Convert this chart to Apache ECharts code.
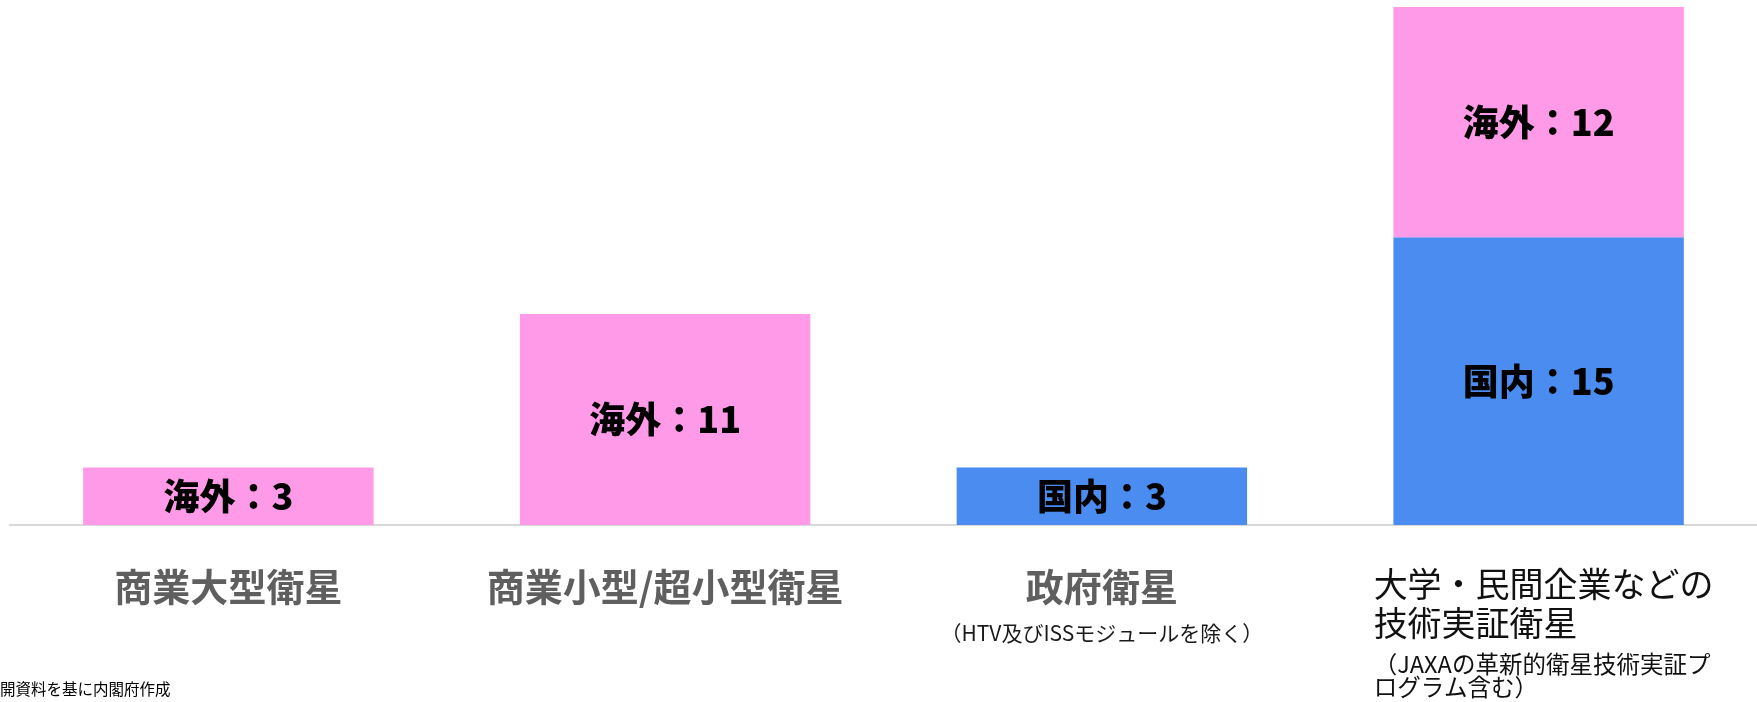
<!DOCTYPE html>
<html>
<head>
<meta charset="utf-8">
<script src="https://cdn.jsdelivr.net/npm/echarts@6/dist/echarts.min.js"></script>
<style>
html, body { margin: 0; padding: 0; background: #fff; }
#chart { width: 1757px; height: 702px; }
</style>
</head>
<body>
<div id="chart"></div>
<script>
// カテゴリ
let categories = ['商業大型衛星', '商業小型/超小型衛星', '政府衛星', '大学・民間企業などの技術実証衛星']
// 国内 / 海外 の機数
let domesticData = [null, null, 3, 15]
let overseasData = [3, 11, null, 12]
let noteText = '開資料を基に内閣府作成'

let chart = echarts.init(document.getElementById('chart'))

let labelFont = '"Noto Sans CJK JP", "Noto Sans", sans-serif'

let barLabel = (name) => ({
    show: true,
    position: 'inside',
    color: '#000',
    fontFamily: labelFont,
    fontWeight: 900,
    fontSize: 36,
    formatter: (p) => name + '：' + p.value
})

let option = {
    animation: false,
    grid: {
        left: 10,
        right: 0,
        top: 7,
        bottom: 177,
        outerBoundsMode: 'none'
    },
    xAxis: {
        type: 'category',
        data: categories,
        axisLine: {
            lineStyle: { color: '#d9d9d9', width: 2 }
        },
        axisTick: { show: false },
        axisLabel: {
            interval: 0,
            margin: 40,
            verticalAlign: 'top',
            fontFamily: labelFont,
            formatter: (v, i) => {
                if (i === 2) {
                    return '{b|' + v + '}\n{s|（HTV及びISSモジュールを除く）}'
                }
                if (i === 3) {
                    return '{n|大学・民間企業などの}\n{n|技術実証衛星}\n{sa|（JAXAの革新的衛星技術実証プ}\n{sb|ログラム含む）}'
                }
                return '{b|' + v + '}'
            },
            rich: {
                b: {
                    fontFamily: labelFont,
                    fontWeight: 'bold',
                    fontSize: 38,
                    color: '#5f5f5f',
                    lineHeight: 43
                },
                s: {
                    fontFamily: labelFont,
                    fontSize: 21,
                    color: '#1a1a1a',
                    lineHeight: 51
                },
                n: {
                    fontFamily: labelFont,
                    fontSize: 34,
                    color: '#111',
                    lineHeight: 39,
                    width: 330,
                    align: 'left'
                },
                sa: {
                    fontFamily: labelFont,
                    fontSize: 23.5,
                    color: '#111',
                    lineHeight: 43,
                    width: 330,
                    align: 'left'
                },
                sb: {
                    fontFamily: labelFont,
                    fontSize: 23.5,
                    color: '#111',
                    lineHeight: 2,
                    width: 330,
                    align: 'left'
                }
            }
        }
    },
    yAxis: {
        type: 'value',
        min: 0,
        max: 27,
        show: false,
        splitLine: { show: false }
    },
    series: [
        {
            name: '国内',
            type: 'bar',
            stack: 'total',
            barWidth: '66.5%',
            data: domesticData,
            itemStyle: { color: '#4a8cf0' },
            label: barLabel('国内')
        },
        {
            name: '海外',
            type: 'bar',
            stack: 'total',
            barWidth: '66.5%',
            data: overseasData,
            itemStyle: { color: '#ff9ae8' },
            label: barLabel('海外')
        }
    ],
    graphic: [
        {
            type: 'text',
            left: 0,
            top: 681,
            style: {
                text: noteText,
                fontFamily: labelFont,
                fontSize: 15.5,
                fill: '#000'
            }
        }
    ]
}

chart.setOption(option)
</script>
</body>
</html>
